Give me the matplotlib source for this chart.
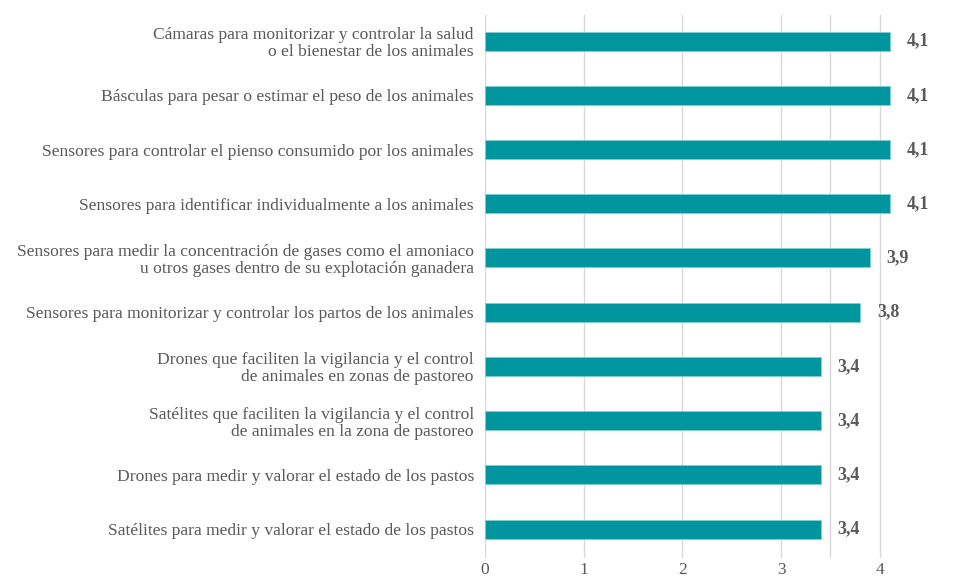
import numpy as np
import matplotlib.pyplot as plt

categories = [
    "Cámaras para monitorizar y controlar la salud\no el bienestar de los animales",
    "Básculas para pesar o estimar el peso de los animales",
    "Sensores para controlar el pienso consumido por los animales",
    "Sensores para identificar individualmente a los animales",
    "Sensores para medir la concentración de gases como el amoniaco\nu otros gases dentro de su explotación ganadera",
    "Sensores para monitorizar y controlar los partos de los animales",
    "Drones que faciliten la vigilancia y el control\nde animales en zonas de pastoreo",
    "Satélites que faciliten la vigilancia y el control\nde animales en la zona de pastoreo",
    "Drones para medir y valorar el estado de los pastos",
    "Satélites para medir y valorar el estado de los pastos",
]
values = [4.1, 4.1, 4.1, 4.1, 3.9, 3.8, 3.4, 3.4, 3.4, 3.4]
tick_values = [0, 1, 2, 3, 4]
grid_values = [0, 1, 2, 3, 3.5, 4]

plt.rcParams['font.family'] = ['Liberation Serif', 'DejaVu Serif']
text_color = '#595959'
bar_color = '#00959F'

fig = plt.figure(figsize=(9.74, 5.81), dpi=100)
ax = fig.add_axes([0.498, 0.04, 0.456, 0.934])

y = np.arange(len(categories))
ax.barh(y, values, height=0.35, color=bar_color, edgecolor='#7fcfd3', linewidth=0.6, zorder=3)

for gx in grid_values:
    ax.axvline(gx, color='#d9d9d9', linewidth=1, zorder=1)

for yi, v in zip(y, values):
    ax.text(v + 0.17, yi, f"{v:.1f}".replace('.', ','), va='center', ha='left',
            fontsize=13, fontweight='bold', color=text_color)

ax.set_xlim(0, 4.5)
ax.set_ylim(len(categories) - 0.47, -0.48)
ax.set_yticks(y)
ax.set_yticklabels(categories, fontsize=12.6, color=text_color, ha='right', linespacing=1.08)
ax.set_xticks(tick_values)
ax.set_xticklabels([str(t) for t in tick_values], fontsize=12.5, color=text_color)
ax.tick_params(axis='y', length=0, pad=8)
ax.tick_params(axis='x', length=0, pad=3)
for s in ax.spines.values():
    s.set_visible(False)

fig.savefig('out.png', dpi=100)
